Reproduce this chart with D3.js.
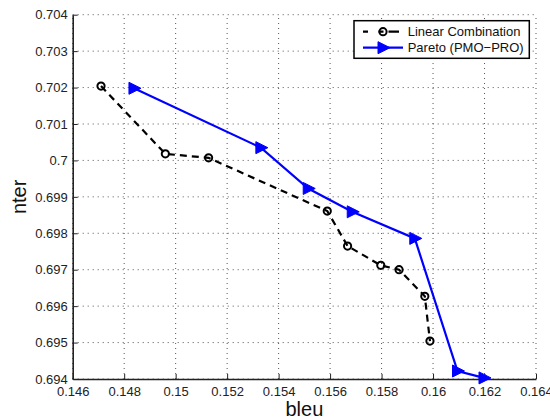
<!DOCTYPE html>
<html><head><meta charset="utf-8">
<script src="https://cdn.jsdelivr.net/npm/d3@7"></script>
<style>body{margin:0;background:#fff}svg{display:block;font-family:"Liberation Sans",Arial,Helvetica,sans-serif}</style>
</head><body><div id="chart"></div>
<script>
const linBleu = [0.14710, 0.14960, 0.15128, 0.15589, 0.15668, 0.15797, 0.15868, 0.15968, 0.15988];
const linTer  = [0.70204, 0.70018, 0.70007, 0.69861, 0.69765, 0.69712, 0.69700, 0.69627, 0.69504];
const parBleu = [0.14838, 0.15331, 0.15515, 0.15686, 0.15929, 0.16095, 0.16198];
const parTer  = [0.70198, 0.70035, 0.69923, 0.69859, 0.69786, 0.69422, 0.69403];
const xTicks = [0.146,0.148,0.15,0.152,0.154,0.156,0.158,0.16,0.162,0.164];
const yTicks = [0.694,0.695,0.696,0.697,0.698,0.699,0.7,0.701,0.702,0.703,0.704];
const seriesNames = ["Linear Combination","Pareto (PMO\u2212PRO)"];
const xLabel = "bleu", yLabel = "nter";

const W=550,H=419, m={l:72.7,r:14,t:14.7,b:40};
const svg=d3.select("#chart").append("svg").attr("width",W).attr("height",H);
const x=d3.scaleLinear().domain([0.146,0.164]).range([m.l,W-m.r]);
const y=d3.scaleLinear().domain([0.694,0.704]).range([H-m.b,m.t]);
const fmt=d=>String(+d.toFixed(3));

// grid
const g=svg.append("g");
g.selectAll(".gx").data(xTicks).join("line").attr("x1",d=>x(d)).attr("x2",d=>x(d)).attr("y1",y(0.694)).attr("y2",y(0.704))
 .attr("stroke","#555").attr("stroke-width",1).attr("stroke-dasharray","1,4");
g.selectAll(".gy").data(yTicks).join("line").attr("y1",d=>y(d)).attr("y2",d=>y(d)).attr("x1",x(0.146)).attr("x2",x(0.164))
 .attr("stroke","#555").attr("stroke-width",1).attr("stroke-dasharray","1,4");

// axes
const xa=svg.append("g").attr("transform",`translate(0,${y(0.694)})`)
 .call(d3.axisBottom(x).tickValues(xTicks).tickFormat(fmt).tickSizeInner(-5).tickSizeOuter(0).tickPadding(8));
const ya=svg.append("g").attr("transform",`translate(${x(0.146)},0)`)
 .call(d3.axisLeft(y).tickValues(yTicks).tickFormat(fmt).tickSizeInner(-5).tickSizeOuter(0).tickPadding(5));
[xa,ya].forEach(a=>{a.select(".domain").attr("stroke","#222").attr("stroke-width",1.6);
 a.selectAll(".tick line").attr("stroke","#222");
 a.selectAll(".tick text").attr("font-size",13).attr("fill","#222").attr("font-family","Liberation Sans, Arial, sans-serif");});

svg.append("text").attr("x",(x(0.146)+x(0.164))/2).attr("y",416).attr("text-anchor","middle")
 .attr("font-size",20).attr("fill","#111").text(xLabel);
svg.append("text").attr("transform",`translate(26,${(y(0.694)+y(0.704))/2}) rotate(-90)`).attr("text-anchor","middle")
 .attr("font-size",20).attr("fill","#111").text(yLabel);

// lines
const linData=linBleu.map((b,i)=>[b,linTer[i]]);
const parData=parBleu.map((b,i)=>[b,parTer[i]]);
const line=d3.line().x(d=>x(d[0])).y(d=>y(d[1]));
svg.append("path").datum(linData).attr("d",line).attr("fill","none").attr("stroke","#000").attr("stroke-width",2.2).attr("stroke-dasharray","7,5");
svg.selectAll(".lc").data(linData).join("circle").attr("cx",d=>x(d[0])).attr("cy",d=>y(d[1])).attr("r",3.6)
 .attr("fill","none").attr("stroke","#000").attr("stroke-width",2);
svg.append("path").datum(parData).attr("d",line).attr("fill","none").attr("stroke","#0000ff").attr("stroke-width",2.2);
const tri="M-5,-6L7,0L-5,6Z";
svg.selectAll(".pt").data(parData).join("path").attr("d",tri).attr("transform",d=>`translate(${x(d[0])},${y(d[1])})`)
 .attr("fill","#0000ff").attr("stroke","#0000ff").attr("stroke-width",1);

// legend
const lg=svg.append("g");
lg.append("rect").attr("x",354).attr("y",20.7).attr("width",175.3).attr("height",37.6).attr("fill","#fff").attr("stroke","#000").attr("stroke-width",1.5);
lg.append("line").attr("x1",363).attr("x2",403).attr("y1",31.7).attr("y2",31.7).attr("stroke","#000").attr("stroke-width",2.2).attr("stroke-dasharray","5,10.5,5");
lg.append("circle").attr("cx",383).attr("cy",31.7).attr("r",3.6).attr("fill","none").attr("stroke","#000").attr("stroke-width",2);
lg.append("line").attr("x1",363).attr("x2",403).attr("y1",47.7).attr("y2",47.7).attr("stroke","#0000ff").attr("stroke-width",2.2);
lg.append("path").attr("d",tri).attr("transform","translate(383,47.7)").attr("fill","#0000ff").attr("stroke","#0000ff");
lg.selectAll(".lt").data(seriesNames).join("text").attr("x",407.7).attr("y",(d,i)=>31.7+i*16+4.6).attr("font-size",13).attr("fill","#111").text(d=>d);
</script></body></html>
